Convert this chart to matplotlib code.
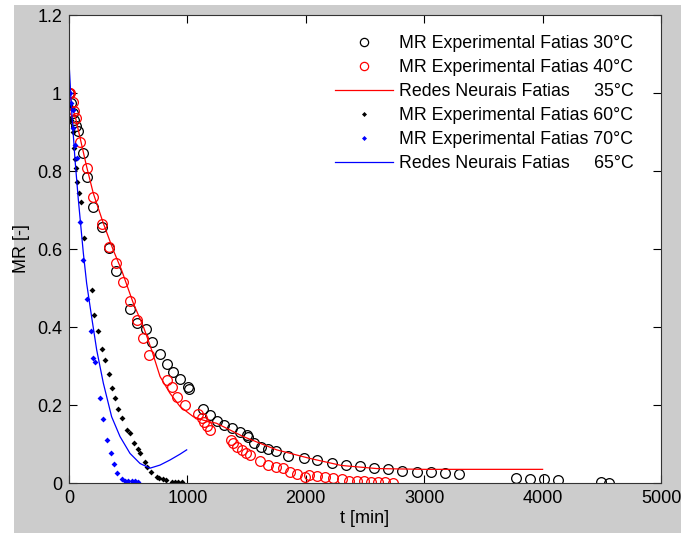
import matplotlib
matplotlib.use("Agg")
import matplotlib.pyplot as plt
from matplotlib.patches import Rectangle

plt.rcParams['font.family'] = ['Liberation Sans', 'DejaVu Sans']

# MR experimental, slices 30 °C
t_30 = [0, 15, 30, 45, 60, 79, 115, 155, 205, 276, 338, 397, 515, 577, 648, 704, 766, 825,
        881, 938, 1002, 1016, 1129, 1191, 1253, 1309, 1374, 1444, 1501, 1509, 1562, 1622,
        1684, 1745, 1852, 1985, 2092, 2218, 2337, 2458, 2576, 2697, 2815, 2936, 3057,
        3178, 3294, 3775, 3894, 4015, 4133, 4493, 4561]
mr_30 = [1.0, 0.975, 0.95, 0.93, 0.915, 0.903, 0.845, 0.785, 0.708, 0.656, 0.602, 0.544,
         0.445, 0.409, 0.395, 0.361, 0.331, 0.305, 0.285, 0.266, 0.247, 0.240, 0.191, 0.174,
         0.160, 0.149, 0.140, 0.132, 0.123, 0.119, 0.103, 0.093, 0.086, 0.082, 0.069, 0.063,
         0.059, 0.052, 0.046, 0.044, 0.038, 0.035, 0.031, 0.027, 0.027, 0.025, 0.022,
         0.014, 0.010, 0.010, 0.008, 0.003, 0.001]

# MR experimental, slices 40 °C
t_40 = [0, 8, 31, 45, 59, 93, 155, 205, 276, 338, 397, 453, 515, 577, 628, 679, 825, 867,
        915, 980, 1092, 1120, 1140, 1163, 1191, 1366, 1388, 1416, 1459, 1495, 1529, 1613,
        1684, 1748, 1805, 1867, 1928, 1993, 2030, 2092, 2162, 2227, 2303, 2368, 2430,
        2492, 2551, 2613, 2669, 2734]
mr_40 = [1.0, 1.0, 0.977, 0.955, 0.935, 0.875, 0.807, 0.734, 0.664, 0.604, 0.565, 0.516,
         0.467, 0.418, 0.371, 0.328, 0.264, 0.247, 0.221, 0.200, 0.177, 0.166, 0.157, 0.146,
         0.136, 0.110, 0.103, 0.093, 0.085, 0.076, 0.072, 0.057, 0.046, 0.042, 0.038,
         0.029, 0.023, 0.016, 0.021, 0.018, 0.016, 0.012, 0.009, 0.005, 0.005, 0.005,
         0.003, 0.003, 0.003, 0.001]

# Neural network prediction, slices 35 °C
t_nn35 = [0, 60, 149, 205, 290, 374, 444, 543, 628, 698, 769, 853, 938, 1050, 1135, 1247,
          1472, 1754, 2035, 2300, 2600, 3000, 3500, 4000]
mr_nn35 = [1.0, 0.93, 0.811, 0.743, 0.666, 0.597, 0.546, 0.461, 0.401, 0.341, 0.273, 0.230,
           0.196, 0.170, 0.161, 0.153, 0.119, 0.085, 0.063, 0.045, 0.037, 0.035, 0.035, 0.035]

# MR experimental, slices 60 °C
t_60 = [0, 10, 20, 30, 40, 50, 59, 70, 84, 99, 129, 191, 211, 248, 276, 304, 338, 360, 389,
        417, 445, 487, 515, 549, 585, 600, 642, 661, 690, 740, 763, 797, 819, 867, 895,
        923, 952]
mr_60 = [1.0, 0.97, 0.93, 0.90, 0.86, 0.83, 0.807, 0.773, 0.743, 0.721, 0.629, 0.495, 0.431,
         0.391, 0.343, 0.315, 0.279, 0.243, 0.217, 0.189, 0.166, 0.136, 0.129, 0.102, 0.087,
         0.078, 0.055, 0.042, 0.029, 0.016, 0.012, 0.009, 0.008, 0.003, 0.002, 0.002, 0.002]

# MR experimental, slices 70 °C
t_70 = [0, 8, 20, 31, 37, 51, 65, 93, 121, 149, 183, 205, 220, 262, 290, 324, 352, 380, 408,
        445, 473, 501, 529, 557, 585]
mr_70 = [1.0, 1.0, 0.975, 0.956, 0.909, 0.867, 0.833, 0.670, 0.572, 0.471, 0.391, 0.320,
         0.309, 0.219, 0.163, 0.110, 0.076, 0.050, 0.026, 0.009, 0.006, 0.005, 0.005, 0.005,
         0.002]

# Neural network prediction, slices 65 °C
t_nn65 = [0, 22, 51, 79, 121, 149, 191, 234, 290, 360, 431, 515, 600, 684, 769, 853, 938, 994]
mr_nn65 = [1.08, 0.956, 0.828, 0.726, 0.590, 0.512, 0.426, 0.341, 0.256, 0.170, 0.119, 0.076,
           0.050, 0.038, 0.046, 0.059, 0.074, 0.085]

x_ticks = [0, 1000, 2000, 3000, 4000, 5000]
y_ticks = [0, 0.2, 0.4, 0.6, 0.8, 1.0, 1.2]
y_tick_labels = ['0', '0.2', '0.4', '0.6', '0.8', '1', '1.2']

labels = ['MR Experimental Fatias 30°C',
          'MR Experimental Fatias 40°C',
          'Redes Neurais Fatias     35°C',
          'MR Experimental Fatias 60°C',
          'MR Experimental Fatias 70°C',
          'Redes Neurais Fatias     65°C']

W, H = 681, 533
fig = plt.figure(figsize=(W / 100, H / 100), dpi=100, facecolor='#cccccc')
# white margin strips along the left and top edges
fig.patches.append(Rectangle((0, 0), 14 / W, 1, transform=fig.transFigure,
                             facecolor='white', edgecolor='none', zorder=-1))
fig.patches.append(Rectangle((0, 1 - 5 / H), 1, 5 / H, transform=fig.transFigure,
                             facecolor='white', edgecolor='none', zorder=-1))

ax = fig.add_axes([69 / W, (H - 483) / H, 592 / W, 468 / H])
ax.set_facecolor('white')

ms_o = 7
h1, = ax.plot(t_30, mr_30, 'o', mfc='none', mec='black', ms=ms_o, mew=0.9, label=labels[0])
h2, = ax.plot(t_40, mr_40, 'o', mfc='none', mec='red', ms=ms_o, mew=0.9, label=labels[1])
h3, = ax.plot(t_nn35, mr_nn35, '-', color='red', lw=0.9, label=labels[2])
h4, = ax.plot(t_60, mr_60, 'D', color='black', ms=3, mew=0, label=labels[3])
h5, = ax.plot(t_70, mr_70, 'D', color='blue', ms=3, mew=0, label=labels[4])
h6, = ax.plot(t_nn65, mr_nn65, '-', color='blue', lw=0.9, label=labels[5])

ax.set_xlim(0, 5000)
ax.set_ylim(0, 1.2)
ax.set_xticks(x_ticks)
ax.set_xticklabels([str(v) for v in x_ticks])
ax.set_yticks(y_ticks)
ax.set_yticklabels(y_tick_labels)
ax.tick_params(direction='in', length=6, width=0.8, top=True, right=True,
               labelsize=13, pad=5, colors='black')
for s in ax.spines.values():
    s.set_linewidth(0.8)
    s.set_color('#333333')

ax.set_xlabel('t [min]', fontsize=13, labelpad=2)
ax.set_ylabel('MR [-]', fontsize=13, labelpad=5)

leg = ax.legend(handles=[h1, h2, h3, h4, h5, h6], loc='upper right',
                bbox_to_anchor=(1.0 - 9 / 592, 1.0 - 2 / 468), frameon=False,
                fontsize=12.8, handlelength=3.3, handletextpad=0.35,
                labelspacing=0.4, borderaxespad=0.6, markerscale=0.85)

fig.savefig('out.png', dpi=100, facecolor=fig.get_facecolor())
